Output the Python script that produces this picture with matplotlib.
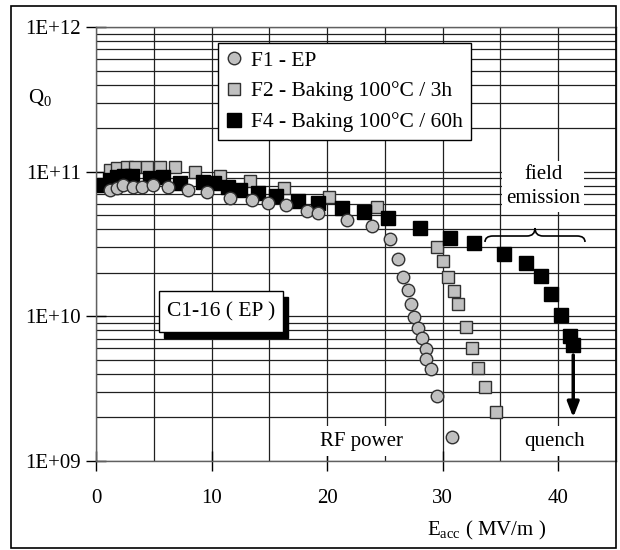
import matplotlib
matplotlib.use("Agg")
import matplotlib.pyplot as plt
from matplotlib.patches import Rectangle, PathPatch
from matplotlib.path import Path
from matplotlib.ticker import FixedLocator, LogLocator, MultipleLocator, NullFormatter

plt.rcParams['font.family'] = ['Liberation Serif', 'DejaVu Serif']
plt.rcParams['mathtext.fontset'] = 'custom'
plt.rcParams['mathtext.rm'] = 'Liberation Serif'
plt.rcParams['mathtext.it'] = 'Liberation Serif:italic'

# F1 - EP
f1_e = [1.2, 1.8, 2.3, 3.2, 4.0, 4.9, 6.2, 8.0, 9.6, 11.6, 13.5, 14.9, 16.4, 18.3,
        19.2, 21.7, 23.9, 25.4, 26.1, 26.6, 27.0, 27.3, 27.5, 27.9, 28.2, 28.6,
        28.6, 29.0, 29.5, 30.8]
f1_q = [7.5e10, 7.7e10, 8.1e10, 7.8e10, 7.8e10, 8.1e10, 7.8e10, 7.5e10, 7.25e10,
        6.6e10, 6.4e10, 6.1e10, 5.9e10, 5.35e10, 5.2e10, 4.65e10, 4.2e10, 3.4e10,
        2.5e10, 1.87e10, 1.52e10, 1.22e10, 9.9e9, 8.3e9, 7.1e9, 5.9e9, 5.1e9,
        4.3e9, 2.8e9, 1.47e9]

# F2 - Baking 100C / 3h
f2_e = [1.2, 1.8, 2.7, 3.4, 4.4, 5.5, 6.8, 8.6, 10.7, 13.3, 16.3, 20.2, 24.3,
        29.5, 30.0, 30.5, 31.0, 31.3, 32.0, 32.5, 33.1, 33.7, 34.6]
f2_q = [1.03e11, 1.06e11, 1.08e11, 1.08e11, 1.08e11, 1.08e11, 1.08e11, 9.95e10,
        9.3e10, 8.6e10, 7.7e10, 6.7e10, 5.7e10, 3.0e10, 2.4e10, 1.87e10, 1.5e10,
        1.22e10, 8.5e9, 6.0e9, 4.4e9, 3.25e9, 2.18e9]

# F4 - Baking 100C / 60h
f4_e = [0.7, 1.2, 1.8, 2.4, 3.1, 4.7, 5.8, 7.3, 9.3, 10.2, 11.4, 12.5, 14.0, 15.6,
        17.5, 19.2, 21.3, 23.2, 25.3, 28.0, 30.6, 32.7, 35.3, 37.2, 38.5, 39.4,
        40.2, 41.0, 41.3]
f4_q = [8.1e10, 8.8e10, 9.2e10, 9.3e10, 9.3e10, 9.0e10, 9.2e10, 8.4e10, 8.5e10,
        8.4e10, 7.8e10, 7.5e10, 7.1e10, 6.8e10, 6.3e10, 6.1e10, 5.6e10, 5.3e10,
        4.8e10, 4.1e10, 3.5e10, 3.2e10, 2.7e10, 2.35e10, 1.9e10, 1.43e10, 1.02e10,
        7.3e9, 6.3e9]

y_ticks = [1e9, 1e10, 1e11, 1e12]
y_labels = ['1E+09', '1E+10', '1E+11', '1E+12']
x_ticks = [0, 10, 20, 30, 40]

W, H = 620, 550
FS = 15


def fx(x):
    return x / W


def fy(y):
    return 1 - y / H


fig = plt.figure(figsize=(6.2, 5.5), dpi=100)
ax = fig.add_axes([fx(96), fy(461), fx(616) - fx(96), fy(27) - fy(461)])

gray = '#c0c0c0'
ax.plot(f2_e, f2_q, 's', ms=9, mfc=gray, mec='#303030', mew=1, zorder=3,
        label='F2 - Baking 100°C / 3h')
ax.plot(f4_e, f4_q, 's', ms=9.5, mfc='black', mec='black', mew=1, zorder=4,
        label='F4 - Baking 100°C / 60h')
ax.plot(f1_e, f1_q, 'o', ms=9, mfc=gray, mec='#303030', mew=1, zorder=5,
        label='F1 - EP')

ax.set_yscale('log')
ax.set_xlim(0, 45)
ax.set_ylim(1e9, 1e12)
ax.yaxis.set_major_locator(FixedLocator(y_ticks))
ax.set_yticklabels(y_labels)
ax.yaxis.set_minor_locator(LogLocator(base=10, subs=range(2, 10)))
ax.yaxis.set_minor_formatter(NullFormatter())
ax.set_xticks(x_ticks)
ax.xaxis.set_minor_locator(MultipleLocator(5))

ax.tick_params(which='major', direction='inout', length=14, width=1, labelsize=FS)
ax.tick_params(which='minor', length=0)
ax.tick_params(axis='x', pad=13)
ax.tick_params(axis='y', pad=4)
ax.grid(True, which='both', color='#202020', lw=0.9)
ax.set_axisbelow(True)
for s in ax.spines.values():
    s.set_color('#606060')
    s.set_linewidth(1)

# legend, order as in the chart
h, l = ax.get_legend_handles_labels()
order = [2, 0, 1]
leg = fig.legend([h[i] for i in order], [l[i] for i in order],
                 loc='upper left', bbox_to_anchor=(fx(218), fy(43)),
                 fontsize=15.5, fancybox=False, framealpha=1, edgecolor='black',
                 handlelength=0.8, handletextpad=0.4, labelspacing=0.5,
                 borderpad=0.35, borderaxespad=0)
leg.get_frame().set_linewidth(1)

# annotations
ax.text(38.7, 7.9e10, 'field\nemission', ha='center', va='center', fontsize=FS,
        linespacing=1.3, zorder=6,
        bbox=dict(facecolor='white', edgecolor='none', pad=3))
ax.text(23.0, 1.37e9, 'RF power', ha='center', va='center', fontsize=FS, zorder=6,
        bbox=dict(facecolor='white', edgecolor='none', pad=4))
ax.text(39.7, 1.37e9, 'quench', ha='center', va='center', fontsize=FS, zorder=6,
        bbox=dict(facecolor='white', edgecolor='none', pad=4))
ax.annotate('', xy=(41.3, 2.0e9), xytext=(41.3, 5.4e9), zorder=7,
            arrowprops=dict(arrowstyle='-|>,head_length=0.9,head_width=0.35',
                            lw=2.5, color='black', shrinkA=0, shrinkB=0))

# brace above the field emission points
pts = [(485, 242), (485, 236), (493, 236), (527, 236), (535, 236), (535, 228),
       (535, 236), (543, 236), (577, 236), (585, 236), (585, 242)]
codes = [Path.MOVETO, Path.CURVE3, Path.CURVE3, Path.LINETO, Path.CURVE3, Path.CURVE3,
         Path.CURVE3, Path.CURVE3, Path.LINETO, Path.CURVE3, Path.CURVE3]
brace = Path([(fx(x), fy(y)) for x, y in pts], codes)
fig.add_artist(PathPatch(brace, transform=fig.transFigure, fill=False,
                         ec='black', lw=1.2, zorder=6))

# sample label box with shadow
fig.add_artist(Rectangle((fx(164), fy(338)), fx(124), fy(0) - fy(41),
                         transform=fig.transFigure, fc='black', ec='black', zorder=6))
fig.add_artist(Rectangle((fx(159), fy(332)), fx(124), fy(0) - fy(41),
                         transform=fig.transFigure, fc='white', ec='black', lw=1, zorder=7))
fig.text(fx(221), fy(312), 'C1-16 ( EP )', ha='center', va='center', fontsize=15.5,
         zorder=8)

fig.text(fx(40), fy(98), r'Q$_0$', ha='center', va='center', fontsize=FS)
fig.text(fx(487), fy(530), r'E$_{\rm acc}$ ( MV/m )', ha='center', va='center',
         fontsize=FS)

# outer frame
fig.add_artist(Rectangle((fx(11), fy(548)), fx(616) - fx(11), fy(6) - fy(548),
                         transform=fig.transFigure, fill=False, ec='black', lw=1.2))

fig.savefig('out.png', dpi=100)
